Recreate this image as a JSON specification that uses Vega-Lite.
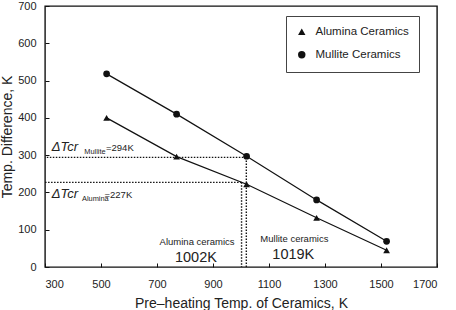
{
  "$schema": "https://vega.github.io/schema/vega-lite/v6.json",
  "width": 392,
  "height": 261,
  "autosize": "none",
  "padding": {"left": 45, "top": 6, "right": 19, "bottom": 43},
  "background": "white",
  "datasets": {
    "measured": [
      {"series": "Alumina Ceramics", "preheat": 520, "dT": 400},
      {"series": "Alumina Ceramics", "preheat": 770, "dT": 296},
      {"series": "Alumina Ceramics", "preheat": 1020, "dT": 222},
      {"series": "Alumina Ceramics", "preheat": 1270, "dT": 132},
      {"series": "Alumina Ceramics", "preheat": 1520, "dT": 45},
      {"series": "Mullite Ceramics", "preheat": 520, "dT": 518},
      {"series": "Mullite Ceramics", "preheat": 770, "dT": 410},
      {"series": "Mullite Ceramics", "preheat": 1020, "dT": 297},
      {"series": "Mullite Ceramics", "preheat": 1270, "dT": 180},
      {"series": "Mullite Ceramics", "preheat": 1520, "dT": 69}
    ],
    "critical": [
      {"material": "Alumina", "temp": 1002, "dTcr": 227},
      {"material": "Mullite", "temp": 1019, "dTcr": 294}
    ],
    "anchor": [{}]
  },
  "config": {
    "font": "Liberation Sans",
    "view": {"stroke": "#111", "strokeWidth": 1.4},
    "axis": {
      "domain": false,
      "grid": false,
      "ticks": true,
      "tickSize": 4,
      "offset": -4,
      "tickColor": "#111",
      "tickWidth": 1,
      "labelOverlap": false,
      "labelFont": "Liberation Sans",
      "labelFontSize": 11,
      "labelColor": "#222",
      "titleFont": "Liberation Sans",
      "titleFontSize": 14,
      "titleFontWeight": "normal",
      "titleColor": "#222"
    },
    "axisX": {"labelPadding": 11, "titlePadding": 7.5},
    "axisY": {"labelPadding": 9, "titlePadding": 3},
    "legend": {"labelFont": "Liberation Sans"}
  },
  "layer": [
    {
      "data": {"name": "measured"},
      "mark": {"type": "line", "color": "#111", "strokeWidth": 1.2},
      "encoding": {
        "x": {
          "field": "preheat",
          "type": "quantitative",
          "scale": {"domain": [300, 1700], "nice": false, "zero": false},
          "axis": {"title": "Pre\u2013heating Temp. of Ceramics, K", "values": [300, 500, 700, 900, 1100, 1300, 1500, 1700], "tickCount": 8, "format": "d", "labelOverlap": false}
        },
        "y": {
          "field": "dT",
          "type": "quantitative",
          "scale": {"domain": [0, 700], "nice": false, "zero": true},
          "axis": {"title": "Temp. Difference, K", "values": [0, 100, 200, 300, 400, 500, 600, 700], "tickCount": 8, "format": "d", "labelOverlap": false}
        },
        "detail": {"field": "series", "type": "nominal"}
      }
    },
    {
      "data": {"name": "measured"},
      "mark": {"type": "point", "filled": true, "opacity": 1, "size": 45, "color": "#111"},
      "encoding": {
        "x": {"field": "preheat", "type": "quantitative", "axis": {"title": "Pre\u2013heating Temp. of Ceramics, K", "values": [300, 500, 700, 900, 1100, 1300, 1500, 1700], "tickCount": 8, "format": "d", "labelOverlap": false}},
        "y": {"field": "dT", "type": "quantitative", "axis": {"title": "Temp. Difference, K", "values": [0, 100, 200, 300, 400, 500, 600, 700], "tickCount": 8, "format": "d", "labelOverlap": false}},
        "shape": {
          "field": "series",
          "type": "nominal",
          "scale": {"domain": ["Alumina Ceramics", "Mullite Ceramics"], "range": ["triangle-up", "circle"]},
          "legend": {
            "title": null,
            "orient": "none",
            "legendX": 241,
            "legendY": 10,
            "strokeColor": "#444",
            "fillColor": "white",
            "padding": 10,
            "labelOffset": 8,
            "labelFontSize": 11.5,
            "labelColor": "#222",
            "symbolFillColor": "#111",
            "symbolStrokeColor": "#111",
            "symbolSize": 55,
            "rowPadding": 10
          }
        }
      }
    },
    {
      "data": {"name": "critical"},
      "mark": {"type": "rule", "color": "#111", "strokeWidth": 1.4, "strokeDash": [1.5, 1.5]},
      "encoding": {
        "x": {"field": "temp", "type": "quantitative", "axis": {"title": "Pre\u2013heating Temp. of Ceramics, K", "values": [300, 500, 700, 900, 1100, 1300, 1500, 1700], "tickCount": 8, "format": "d", "labelOverlap": false}},
        "x2": {"datum": 300},
        "y": {"field": "dTcr", "type": "quantitative", "axis": {"title": "Temp. Difference, K", "values": [0, 100, 200, 300, 400, 500, 600, 700], "tickCount": 8, "format": "d", "labelOverlap": false}}
      }
    },
    {
      "data": {"name": "critical"},
      "mark": {"type": "rule", "color": "#111", "strokeWidth": 1.4, "strokeDash": [1.5, 1.5]},
      "encoding": {
        "x": {"field": "temp", "type": "quantitative", "axis": {"title": "Pre\u2013heating Temp. of Ceramics, K", "values": [300, 500, 700, 900, 1100, 1300, 1500, 1700], "tickCount": 8, "format": "d", "labelOverlap": false}},
        "y": {"field": "dTcr", "type": "quantitative", "axis": {"title": "Temp. Difference, K", "values": [0, 100, 200, 300, 400, 500, 600, 700], "tickCount": 8, "format": "d", "labelOverlap": false}},
        "y2": {"datum": 0}
      }
    },
    {
      "data": {"name": "anchor"},
      "mark": {"type": "text", "text": "\u0394Tcr", "fontStyle": "italic", "fontSize": 13, "align": "left", "baseline": "alphabetic", "dx": 6.7, "dy": -6.5, "color": "#222"},
      "encoding": {
        "x": {"datum": 300, "type": "quantitative", "axis": {"title": "Pre\u2013heating Temp. of Ceramics, K", "values": [300, 500, 700, 900, 1100, 1300, 1500, 1700], "tickCount": 8, "format": "d", "labelOverlap": false}},
        "y": {"datum": 294, "type": "quantitative", "axis": {"title": "Temp. Difference, K", "values": [0, 100, 200, 300, 400, 500, 600, 700], "tickCount": 8, "format": "d", "labelOverlap": false}}
      }
    },
    {
      "data": {"name": "anchor"},
      "mark": {"type": "text", "text": "Mullite", "fontSize": 7.4, "align": "left", "baseline": "alphabetic", "dx": 39.3, "dy": -3.2, "color": "#222"},
      "encoding": {
        "x": {"datum": 300, "type": "quantitative", "axis": {"title": "Pre\u2013heating Temp. of Ceramics, K", "values": [300, 500, 700, 900, 1100, 1300, 1500, 1700], "tickCount": 8, "format": "d", "labelOverlap": false}},
        "y": {"datum": 294, "type": "quantitative", "axis": {"title": "Temp. Difference, K", "values": [0, 100, 200, 300, 400, 500, 600, 700], "tickCount": 8, "format": "d", "labelOverlap": false}}
      }
    },
    {
      "data": {"name": "anchor"},
      "mark": {"type": "text", "text": "=294K", "fontSize": 9.5, "align": "left", "baseline": "alphabetic", "dx": 61, "dy": -6.5, "color": "#222"},
      "encoding": {
        "x": {"datum": 300, "type": "quantitative", "axis": {"title": "Pre\u2013heating Temp. of Ceramics, K", "values": [300, 500, 700, 900, 1100, 1300, 1500, 1700], "tickCount": 8, "format": "d", "labelOverlap": false}},
        "y": {"datum": 294, "type": "quantitative", "axis": {"title": "Temp. Difference, K", "values": [0, 100, 200, 300, 400, 500, 600, 700], "tickCount": 8, "format": "d", "labelOverlap": false}}
      }
    },
    {
      "data": {"name": "anchor"},
      "mark": {"type": "text", "text": "\u0394Tcr", "fontStyle": "italic", "fontSize": 13, "align": "left", "baseline": "alphabetic", "dx": 6.7, "dy": 15.6, "color": "#222"},
      "encoding": {
        "x": {"datum": 300, "type": "quantitative", "axis": {"title": "Pre\u2013heating Temp. of Ceramics, K", "values": [300, 500, 700, 900, 1100, 1300, 1500, 1700], "tickCount": 8, "format": "d", "labelOverlap": false}},
        "y": {"datum": 227, "type": "quantitative", "axis": {"title": "Temp. Difference, K", "values": [0, 100, 200, 300, 400, 500, 600, 700], "tickCount": 8, "format": "d", "labelOverlap": false}}
      }
    },
    {
      "data": {"name": "anchor"},
      "mark": {"type": "text", "text": "Alumina", "fontSize": 7.4, "align": "left", "baseline": "alphabetic", "dx": 37, "dy": 19, "color": "#222"},
      "encoding": {
        "x": {"datum": 300, "type": "quantitative", "axis": {"title": "Pre\u2013heating Temp. of Ceramics, K", "values": [300, 500, 700, 900, 1100, 1300, 1500, 1700], "tickCount": 8, "format": "d", "labelOverlap": false}},
        "y": {"datum": 227, "type": "quantitative", "axis": {"title": "Temp. Difference, K", "values": [0, 100, 200, 300, 400, 500, 600, 700], "tickCount": 8, "format": "d", "labelOverlap": false}}
      }
    },
    {
      "data": {"name": "anchor"},
      "mark": {"type": "text", "text": "=227K", "fontSize": 9.5, "align": "left", "baseline": "alphabetic", "dx": 59.5, "dy": 15.6, "color": "#222"},
      "encoding": {
        "x": {"datum": 300, "type": "quantitative", "axis": {"title": "Pre\u2013heating Temp. of Ceramics, K", "values": [300, 500, 700, 900, 1100, 1300, 1500, 1700], "tickCount": 8, "format": "d", "labelOverlap": false}},
        "y": {"datum": 227, "type": "quantitative", "axis": {"title": "Temp. Difference, K", "values": [0, 100, 200, 300, 400, 500, 600, 700], "tickCount": 8, "format": "d", "labelOverlap": false}}
      }
    },
    {
      "data": {"name": "anchor"},
      "mark": {"type": "text", "text": "Alumina ceramics", "fontSize": 9.5, "align": "right", "baseline": "alphabetic", "dx": -7, "dy": -21.7, "color": "#222"},
      "encoding": {
        "x": {"datum": 1002, "type": "quantitative", "axis": {"title": "Pre\u2013heating Temp. of Ceramics, K", "values": [300, 500, 700, 900, 1100, 1300, 1500, 1700], "tickCount": 8, "format": "d", "labelOverlap": false}},
        "y": {"datum": 0, "type": "quantitative", "axis": {"title": "Temp. Difference, K", "values": [0, 100, 200, 300, 400, 500, 600, 700], "tickCount": 8, "format": "d", "labelOverlap": false}}
      }
    },
    {
      "data": {"name": "anchor"},
      "mark": {"type": "text", "text": "1002K", "fontSize": 14.5, "align": "center", "baseline": "alphabetic", "dx": -45.6, "dy": -4.7, "color": "#222"},
      "encoding": {
        "x": {"datum": 1002, "type": "quantitative", "axis": {"title": "Pre\u2013heating Temp. of Ceramics, K", "values": [300, 500, 700, 900, 1100, 1300, 1500, 1700], "tickCount": 8, "format": "d", "labelOverlap": false}},
        "y": {"datum": 0, "type": "quantitative", "axis": {"title": "Temp. Difference, K", "values": [0, 100, 200, 300, 400, 500, 600, 700], "tickCount": 8, "format": "d", "labelOverlap": false}}
      }
    },
    {
      "data": {"name": "anchor"},
      "mark": {"type": "text", "text": "Mullite ceramics", "fontSize": 9.5, "align": "left", "baseline": "alphabetic", "dx": 14, "dy": -24.7, "color": "#222"},
      "encoding": {
        "x": {"datum": 1019, "type": "quantitative", "axis": {"title": "Pre\u2013heating Temp. of Ceramics, K", "values": [300, 500, 700, 900, 1100, 1300, 1500, 1700], "tickCount": 8, "format": "d", "labelOverlap": false}},
        "y": {"datum": 0, "type": "quantitative", "axis": {"title": "Temp. Difference, K", "values": [0, 100, 200, 300, 400, 500, 600, 700], "tickCount": 8, "format": "d", "labelOverlap": false}}
      }
    },
    {
      "data": {"name": "anchor"},
      "mark": {"type": "text", "text": "1019K", "fontSize": 14.5, "align": "center", "baseline": "alphabetic", "dx": 47, "dy": -7.7, "color": "#222"},
      "encoding": {
        "x": {"datum": 1019, "type": "quantitative", "axis": {"title": "Pre\u2013heating Temp. of Ceramics, K", "values": [300, 500, 700, 900, 1100, 1300, 1500, 1700], "tickCount": 8, "format": "d", "labelOverlap": false}},
        "y": {"datum": 0, "type": "quantitative", "axis": {"title": "Temp. Difference, K", "values": [0, 100, 200, 300, 400, 500, 600, 700], "tickCount": 8, "format": "d", "labelOverlap": false}}
      }
    }
  ]
}
